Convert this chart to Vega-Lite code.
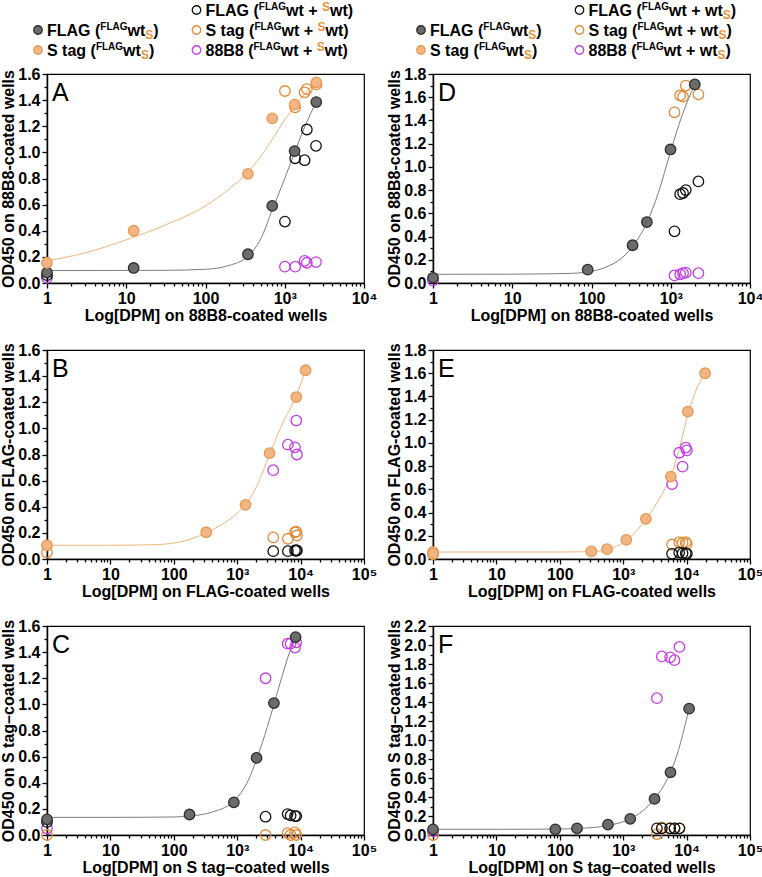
{
"$schema":"https://vega.github.io/schema/vega-lite/v6.json",
"padding":0,
"background":"white",
"config":{
 "font":"Liberation Sans",
 "view":{"stroke":"#000","strokeWidth":1.2},
 "title":{"anchor":"start","frame":"group","orient":"top","offset":-40,"fontSize":25,"fontWeight":"normal","baseline":"alphabetic","dx":5,"color":"#000","font":"Liberation Sans"},
 "axis":{"domainColor":"#000","domainWidth":1.5,"tickColor":"#000","tickWidth":1.3,"labelColor":"#000","labelFontSize":16,"labelFontWeight":"bold","titleFontSize":16,"titleFontWeight":"bold","titleColor":"#000","grid":false,"labelOverlap":false,"labelFont":"Liberation Sans","titleFont":"Liberation Sans","labelFlush":false}
},
"datasets":{
"legend":[
 {"side":"L","col":"a","row":2,"s":"FLAG","prefix":"FLAG (","kind":"a","mid":"wt","close":")"},
 {"side":"L","col":"a","row":3,"s":"S tag","prefix":"S tag (","kind":"a","mid":"wt","close":")"},
 {"side":"L","col":"b","row":1,"s":"FLAG mix","prefix":"FLAG (","kind":"b","mid":"wt + ","close":"wt)"},
 {"side":"L","col":"b","row":2,"s":"S tag mix","prefix":"S tag (","kind":"b","mid":"wt + ","close":"wt)"},
 {"side":"L","col":"b","row":3,"s":"88B8 mix","prefix":"88B8 (","kind":"b","mid":"wt + ","close":"wt)"},
 {"side":"R","col":"a","row":2,"s":"FLAG","prefix":"FLAG (","kind":"a","mid":"wt","close":")"},
 {"side":"R","col":"a","row":3,"s":"S tag","prefix":"S tag (","kind":"a","mid":"wt","close":")"},
 {"side":"R","col":"b","row":1,"s":"FLAG mix","prefix":"FLAG (","kind":"c","mid":"wt + wt","close":")"},
 {"side":"R","col":"b","row":2,"s":"S tag mix","prefix":"S tag (","kind":"c","mid":"wt + wt","close":")"},
 {"side":"R","col":"b","row":3,"s":"88B8 mix","prefix":"88B8 (","kind":"c","mid":"wt + wt","close":")"}
],
"pts":[
 {"p":"A","s":"S tag mix","x":1005,"y":1.47},
 {"p":"A","s":"S tag mix","x":1355,"y":1.345},
 {"p":"A","s":"S tag mix","x":1780,"y":1.46},
 {"p":"A","s":"S tag mix","x":1900,"y":1.485},
 {"p":"A","s":"S tag mix","x":2520,"y":1.52},
 {"p":"A","s":"88B8 mix","x":1,"y":0.04},
 {"p":"A","s":"88B8 mix","x":1005,"y":0.125},
 {"p":"A","s":"88B8 mix","x":1355,"y":0.125},
 {"p":"A","s":"88B8 mix","x":1780,"y":0.17},
 {"p":"A","s":"88B8 mix","x":1900,"y":0.155},
 {"p":"A","s":"88B8 mix","x":2480,"y":0.16},
 {"p":"A","s":"FLAG mix","x":1,"y":0.06},
 {"p":"A","s":"FLAG mix","x":1005,"y":0.47},
 {"p":"A","s":"FLAG mix","x":1355,"y":0.955},
 {"p":"A","s":"FLAG mix","x":1780,"y":0.94},
 {"p":"A","s":"FLAG mix","x":1900,"y":1.175},
 {"p":"A","s":"FLAG mix","x":2480,"y":1.05},
 {"p":"A","s":"FLAG","x":1,"y":0.08},
 {"p":"A","s":"FLAG","x":12.4,"y":0.115},
 {"p":"A","s":"FLAG","x":343,"y":0.22},
 {"p":"A","s":"FLAG","x":695,"y":0.59},
 {"p":"A","s":"FLAG","x":1331,"y":1.01},
 {"p":"A","s":"FLAG","x":2500,"y":1.385},
 {"p":"A","s":"S tag","x":1,"y":0.155},
 {"p":"A","s":"S tag","x":12.4,"y":0.4},
 {"p":"A","s":"S tag","x":343,"y":0.835},
 {"p":"A","s":"S tag","x":695,"y":1.26},
 {"p":"A","s":"S tag","x":1331,"y":1.365},
 {"p":"A","s":"S tag","x":2500,"y":1.535},

 {"p":"D","s":"S tag mix","x":1115,"y":1.47},
 {"p":"D","s":"S tag mix","x":1314,"y":1.615},
 {"p":"D","s":"S tag mix","x":1430,"y":1.605},
 {"p":"D","s":"S tag mix","x":1549,"y":1.7},
 {"p":"D","s":"S tag mix","x":2234,"y":1.625},
 {"p":"D","s":"88B8 mix","x":1,"y":0.02},
 {"p":"D","s":"88B8 mix","x":1115,"y":0.065},
 {"p":"D","s":"88B8 mix","x":1314,"y":0.075},
 {"p":"D","s":"88B8 mix","x":1430,"y":0.085},
 {"p":"D","s":"88B8 mix","x":1549,"y":0.09},
 {"p":"D","s":"88B8 mix","x":2234,"y":0.085},
 {"p":"D","s":"FLAG mix","x":1115,"y":0.445},
 {"p":"D","s":"FLAG mix","x":1314,"y":0.765},
 {"p":"D","s":"FLAG mix","x":1430,"y":0.775},
 {"p":"D","s":"FLAG mix","x":1549,"y":0.8},
 {"p":"D","s":"FLAG mix","x":2234,"y":0.875},
 {"p":"D","s":"FLAG","x":1,"y":0.045},
 {"p":"D","s":"FLAG","x":89.5,"y":0.115},
 {"p":"D","s":"FLAG","x":330,"y":0.325},
 {"p":"D","s":"FLAG","x":500,"y":0.525},
 {"p":"D","s":"FLAG","x":993,"y":1.15},
 {"p":"D","s":"FLAG","x":2010,"y":1.71},

 {"p":"B","s":"88B8 mix","x":3700,"y":0.68},
 {"p":"B","s":"88B8 mix","x":6300,"y":0.875},
 {"p":"B","s":"88B8 mix","x":8150,"y":0.855},
 {"p":"B","s":"88B8 mix","x":8550,"y":1.06},
 {"p":"B","s":"88B8 mix","x":8750,"y":0.8},
 {"p":"B","s":"S tag mix","x":1,"y":0.05},
 {"p":"B","s":"S tag mix","x":3700,"y":0.165},
 {"p":"B","s":"S tag mix","x":6300,"y":0.155},
 {"p":"B","s":"S tag mix","x":8150,"y":0.205},
 {"p":"B","s":"S tag mix","x":8550,"y":0.21},
 {"p":"B","s":"S tag mix","x":8750,"y":0.18},
 {"p":"B","s":"FLAG mix","x":3700,"y":0.06},
 {"p":"B","s":"FLAG mix","x":6300,"y":0.06},
 {"p":"B","s":"FLAG mix","x":8150,"y":0.065},
 {"p":"B","s":"FLAG mix","x":8550,"y":0.065},
 {"p":"B","s":"FLAG mix","x":8750,"y":0.065},
 {"p":"B","s":"S tag","x":1,"y":0.105},
 {"p":"B","s":"S tag","x":324,"y":0.205},
 {"p":"B","s":"S tag","x":1353,"y":0.415},
 {"p":"B","s":"S tag","x":3241,"y":0.81},
 {"p":"B","s":"S tag","x":8560,"y":1.24},
 {"p":"B","s":"S tag","x":11990,"y":1.445},

 {"p":"E","s":"88B8 mix","x":5900,"y":0.645},
 {"p":"E","s":"88B8 mix","x":7650,"y":0.915},
 {"p":"E","s":"88B8 mix","x":8650,"y":0.795},
 {"p":"E","s":"88B8 mix","x":9700,"y":0.96},
 {"p":"E","s":"88B8 mix","x":10100,"y":0.935},
 {"p":"E","s":"S tag mix","x":1,"y":0.04},
 {"p":"E","s":"S tag mix","x":5900,"y":0.125},
 {"p":"E","s":"S tag mix","x":7650,"y":0.145},
 {"p":"E","s":"S tag mix","x":8650,"y":0.14},
 {"p":"E","s":"S tag mix","x":9700,"y":0.145},
 {"p":"E","s":"S tag mix","x":10100,"y":0.13},
 {"p":"E","s":"FLAG mix","x":5900,"y":0.045},
 {"p":"E","s":"FLAG mix","x":7650,"y":0.055},
 {"p":"E","s":"FLAG mix","x":8650,"y":0.05},
 {"p":"E","s":"FLAG mix","x":9700,"y":0.05},
 {"p":"E","s":"FLAG mix","x":10100,"y":0.045},
 {"p":"E","s":"S tag","x":1,"y":0.06},
 {"p":"E","s":"S tag","x":1,"y":0.045},
 {"p":"E","s":"S tag","x":314,"y":0.065},
 {"p":"E","s":"S tag","x":555,"y":0.085},
 {"p":"E","s":"S tag","x":1117,"y":0.165},
 {"p":"E","s":"S tag","x":2280,"y":0.345},
 {"p":"E","s":"S tag","x":5640,"y":0.71},
 {"p":"E","s":"S tag","x":10440,"y":1.27},
 {"p":"E","s":"S tag","x":19580,"y":1.6},

 {"p":"C","s":"88B8 mix","x":1,"y":0.05},
 {"p":"C","s":"88B8 mix","x":2800,"y":1.2},
 {"p":"C","s":"88B8 mix","x":6250,"y":1.465},
 {"p":"C","s":"88B8 mix","x":6950,"y":1.465},
 {"p":"C","s":"88B8 mix","x":8150,"y":1.435},
 {"p":"C","s":"88B8 mix","x":8550,"y":1.475},
 {"p":"C","s":"S tag mix","x":1,"y":0.0},
 {"p":"C","s":"S tag mix","x":2800,"y":0.0},
 {"p":"C","s":"S tag mix","x":6250,"y":0.015},
 {"p":"C","s":"S tag mix","x":6950,"y":0.0},
 {"p":"C","s":"S tag mix","x":8150,"y":0.02},
 {"p":"C","s":"S tag mix","x":8550,"y":0.0},
 {"p":"C","s":"FLAG mix","x":1,"y":0.1},
 {"p":"C","s":"FLAG mix","x":2800,"y":0.14},
 {"p":"C","s":"FLAG mix","x":6250,"y":0.16},
 {"p":"C","s":"FLAG mix","x":6950,"y":0.15},
 {"p":"C","s":"FLAG mix","x":8150,"y":0.145},
 {"p":"C","s":"FLAG mix","x":8550,"y":0.145},
 {"p":"C","s":"FLAG","x":1,"y":0.12},
 {"p":"C","s":"FLAG","x":177,"y":0.157},
 {"p":"C","s":"FLAG","x":885,"y":0.25},
 {"p":"C","s":"FLAG","x":2020,"y":0.59},
 {"p":"C","s":"FLAG","x":3795,"y":1.01},
 {"p":"C","s":"FLAG","x":8340,"y":1.515},

 {"p":"F","s":"88B8 mix","x":1,"y":0.04},
 {"p":"F","s":"88B8 mix","x":3400,"y":1.44},
 {"p":"F","s":"88B8 mix","x":4070,"y":1.88},
 {"p":"F","s":"88B8 mix","x":5500,"y":1.87},
 {"p":"F","s":"88B8 mix","x":6450,"y":1.84},
 {"p":"F","s":"88B8 mix","x":7700,"y":1.98},
 {"p":"F","s":"S tag mix","x":1,"y":0.0},
 {"p":"F","s":"S tag mix","x":3400,"y":0.01},
 {"p":"F","s":"S tag mix","x":4070,"y":0.08},
 {"p":"F","s":"S tag mix","x":5500,"y":0.07},
 {"p":"F","s":"S tag mix","x":6450,"y":0.07},
 {"p":"F","s":"S tag mix","x":7700,"y":0.07},
 {"p":"F","s":"FLAG mix","x":3400,"y":0.07},
 {"p":"F","s":"FLAG mix","x":4070,"y":0.07},
 {"p":"F","s":"FLAG mix","x":5500,"y":0.07},
 {"p":"F","s":"FLAG mix","x":6450,"y":0.07},
 {"p":"F","s":"FLAG mix","x":7700,"y":0.07},
 {"p":"F","s":"FLAG","x":1,"y":0.06},
 {"p":"F","s":"FLAG","x":85,"y":0.06},
 {"p":"F","s":"FLAG","x":187,"y":0.07},
 {"p":"F","s":"FLAG","x":575,"y":0.11},
 {"p":"F","s":"FLAG","x":1291,"y":0.17},
 {"p":"F","s":"FLAG","x":3120,"y":0.38},
 {"p":"F","s":"FLAG","x":5570,"y":0.66},
 {"p":"F","s":"FLAG","x":10960,"y":1.33}
],
"curves":[
 {"p":"A","c":"FLAG","x":1,"y":0.095},{"p":"A","c":"FLAG","x":30,"y":0.097},{"p":"A","c":"FLAG","x":100,"y":0.105},{"p":"A","c":"FLAG","x":200,"y":0.135},{"p":"A","c":"FLAG","x":343,"y":0.205},{"p":"A","c":"FLAG","x":500,"y":0.34},{"p":"A","c":"FLAG","x":695,"y":0.56},{"p":"A","c":"FLAG","x":1000,"y":0.8},{"p":"A","c":"FLAG","x":1331,"y":1.0},{"p":"A","c":"FLAG","x":1800,"y":1.2},{"p":"A","c":"FLAG","x":2500,"y":1.39},
 {"p":"A","c":"S tag","x":1,"y":0.17},{"p":"A","c":"S tag","x":3,"y":0.23},{"p":"A","c":"S tag","x":10,"y":0.33},{"p":"A","c":"S tag","x":30,"y":0.44},{"p":"A","c":"S tag","x":100,"y":0.59},{"p":"A","c":"S tag","x":200,"y":0.72},{"p":"A","c":"S tag","x":343,"y":0.85},{"p":"A","c":"S tag","x":500,"y":0.97},{"p":"A","c":"S tag","x":695,"y":1.1},{"p":"A","c":"S tag","x":1000,"y":1.25},{"p":"A","c":"S tag","x":1331,"y":1.35},{"p":"A","c":"S tag","x":1800,"y":1.45},{"p":"A","c":"S tag","x":2500,"y":1.54},
 {"p":"D","c":"FLAG","x":1,"y":0.075},{"p":"D","c":"FLAG","x":10,"y":0.076},{"p":"D","c":"FLAG","x":50,"y":0.082},{"p":"D","c":"FLAG","x":89.5,"y":0.095},{"p":"D","c":"FLAG","x":150,"y":0.135},{"p":"D","c":"FLAG","x":250,"y":0.225},{"p":"D","c":"FLAG","x":330,"y":0.315},{"p":"D","c":"FLAG","x":500,"y":0.52},{"p":"D","c":"FLAG","x":700,"y":0.78},{"p":"D","c":"FLAG","x":993,"y":1.13},{"p":"D","c":"FLAG","x":1400,"y":1.45},{"p":"D","c":"FLAG","x":2010,"y":1.71},
 {"p":"B","c":"S tag","x":1,"y":0.105},{"p":"B","c":"S tag","x":10,"y":0.105},{"p":"B","c":"S tag","x":50,"y":0.11},{"p":"B","c":"S tag","x":100,"y":0.122},{"p":"B","c":"S tag","x":200,"y":0.158},{"p":"B","c":"S tag","x":324,"y":0.2},{"p":"B","c":"S tag","x":600,"y":0.27},{"p":"B","c":"S tag","x":1000,"y":0.35},{"p":"B","c":"S tag","x":1353,"y":0.415},{"p":"B","c":"S tag","x":2000,"y":0.55},{"p":"B","c":"S tag","x":3241,"y":0.8},{"p":"B","c":"S tag","x":5000,"y":1.02},{"p":"B","c":"S tag","x":8560,"y":1.25},{"p":"B","c":"S tag","x":12000,"y":1.445},
 {"p":"E","c":"S tag","x":1,"y":0.06},{"p":"E","c":"S tag","x":10,"y":0.06},{"p":"E","c":"S tag","x":100,"y":0.06},{"p":"E","c":"S tag","x":314,"y":0.063},{"p":"E","c":"S tag","x":555,"y":0.08},{"p":"E","c":"S tag","x":1117,"y":0.16},{"p":"E","c":"S tag","x":2280,"y":0.34},{"p":"E","c":"S tag","x":4000,"y":0.55},{"p":"E","c":"S tag","x":5640,"y":0.71},{"p":"E","c":"S tag","x":8000,"y":0.99},{"p":"E","c":"S tag","x":10440,"y":1.24},{"p":"E","c":"S tag","x":14000,"y":1.45},{"p":"E","c":"S tag","x":19580,"y":1.6},
 {"p":"C","c":"FLAG","x":1,"y":0.135},{"p":"C","c":"FLAG","x":10,"y":0.135},{"p":"C","c":"FLAG","x":100,"y":0.138},{"p":"C","c":"FLAG","x":177,"y":0.145},{"p":"C","c":"FLAG","x":400,"y":0.175},{"p":"C","c":"FLAG","x":885,"y":0.26},{"p":"C","c":"FLAG","x":1500,"y":0.42},{"p":"C","c":"FLAG","x":2020,"y":0.58},{"p":"C","c":"FLAG","x":3000,"y":0.83},{"p":"C","c":"FLAG","x":3795,"y":1.0},{"p":"C","c":"FLAG","x":5000,"y":1.2},{"p":"C","c":"FLAG","x":6500,"y":1.38},{"p":"C","c":"FLAG","x":8340,"y":1.51},
 {"p":"F","c":"FLAG","x":1,"y":0.06},{"p":"F","c":"FLAG","x":10,"y":0.06},{"p":"F","c":"FLAG","x":85,"y":0.062},{"p":"F","c":"FLAG","x":187,"y":0.068},{"p":"F","c":"FLAG","x":575,"y":0.1},{"p":"F","c":"FLAG","x":1291,"y":0.17},{"p":"F","c":"FLAG","x":2000,"y":0.25},{"p":"F","c":"FLAG","x":3120,"y":0.38},{"p":"F","c":"FLAG","x":4000,"y":0.48},{"p":"F","c":"FLAG","x":5570,"y":0.66},{"p":"F","c":"FLAG","x":7500,"y":0.9},{"p":"F","c":"FLAG","x":9000,"y":1.1},{"p":"F","c":"FLAG","x":10960,"y":1.33}
]
},
"columns":2,
"spacing":{"row":67,"column":69},
"align":"each",
"bounds":"flush",
"concat":[
 {"width":317,"height":7,"view":{"stroke":null},"data":{"name":"legend"},"transform":[{"filter":"datum.side=='L'"}],
  "encoding":{"x":{"field":"col","type":"nominal","scale":{"type":"point","domain":["a","b"],"range":[0,158.5],"padding":0},"axis":null},
   "y":{"field":"row","type":"ordinal","scale":{"domain":[1,2,3],"range":[0,60],"paddingInner":0,"paddingOuter":0},"axis":null}},
  "layer":[
   {"mark":{"type":"point","shape":"circle","size":72,"opacity":1,"filled":true,"strokeWidth":1.3,"xOffset":-9},
    "encoding":{"fill":{"field":"s","type":"nominal","scale":{"domain":["FLAG","S tag","FLAG mix","S tag mix","88B8 mix"],"range":["#6b6b6b","#f3b581","transparent","transparent","transparent"]},"legend":null},
     "stroke":{"field":"s","type":"nominal","scale":{"domain":["FLAG","S tag","FLAG mix","S tag mix","88B8 mix"],"range":["#2e2e2e","#e39b58","#111111","#e38a37","#c43ce8"]},"legend":null}}},
   {"mark":{"type":"text","align":"left","baseline":"alphabetic","dy":5.5,"fontSize":16,"fontWeight":"bold","color":"#000"},"encoding":{"text":{"field":"prefix"}}},
   {"mark":{"type":"text","align":"left","baseline":"alphabetic","dy":0,"fontSize":10,"fontWeight":"bold","color":"#000","text":"FLAG","dx":{"expr":"(datum.prefix=='FLAG (' ? 53.3 : datum.prefix=='S tag (' ? 48.9 : 48.0)"}}},
   {"mark":{"type":"text","align":"left","baseline":"alphabetic","dy":5.5,"fontSize":16,"fontWeight":"bold","color":"#000","dx":{"expr":"(datum.prefix=='FLAG (' ? 53.3 : datum.prefix=='S tag (' ? 48.9 : 48.0) + 27.2"}},"encoding":{"text":{"field":"mid"}}},
   {"mark":{"type":"text","align":"left","baseline":"alphabetic","fontSize":12,"fontWeight":"bold","color":"#e8923a","text":"S","dx":{"expr":"(datum.prefix=='FLAG (' ? 53.3 : datum.prefix=='S tag (' ? 48.9 : 48.0) + 27.2 + (datum.kind=='a' ? 17.8 : datum.kind=='b' ? 36.0 : 53.8)"},"dy":{"expr":"datum.kind=='b' ? 0.5 : 9"}}},
   {"mark":{"type":"text","align":"left","baseline":"alphabetic","dy":5.5,"fontSize":16,"fontWeight":"bold","color":"#000","dx":{"expr":"(datum.prefix=='FLAG (' ? 53.3 : datum.prefix=='S tag (' ? 48.9 : 48.0) + 27.2 + (datum.kind=='a' ? 17.8 : datum.kind=='b' ? 36.0 : 53.8) + 8.0"}},"encoding":{"text":{"field":"close"}}}
  ]},
 {"width":317,"height":7,"view":{"stroke":null},"data":{"name":"legend"},"transform":[{"filter":"datum.side=='R'"}],
  "encoding":{"x":{"field":"col","type":"nominal","scale":{"type":"point","domain":["a","b"],"range":[-3,155.5],"padding":0},"axis":null},
   "y":{"field":"row","type":"ordinal","scale":{"domain":[1,2,3],"range":[0,60],"paddingInner":0,"paddingOuter":0},"axis":null}},
  "layer":[
   {"mark":{"type":"point","shape":"circle","size":72,"opacity":1,"filled":true,"strokeWidth":1.3,"xOffset":-9},
    "encoding":{"fill":{"field":"s","type":"nominal","scale":{"domain":["FLAG","S tag","FLAG mix","S tag mix","88B8 mix"],"range":["#6b6b6b","#f3b581","transparent","transparent","transparent"]},"legend":null},
     "stroke":{"field":"s","type":"nominal","scale":{"domain":["FLAG","S tag","FLAG mix","S tag mix","88B8 mix"],"range":["#2e2e2e","#e39b58","#111111","#e38a37","#c43ce8"]},"legend":null}}},
   {"mark":{"type":"text","align":"left","baseline":"alphabetic","dy":5.5,"fontSize":16,"fontWeight":"bold","color":"#000"},"encoding":{"text":{"field":"prefix"}}},
   {"mark":{"type":"text","align":"left","baseline":"alphabetic","dy":0,"fontSize":10,"fontWeight":"bold","color":"#000","text":"FLAG","dx":{"expr":"(datum.prefix=='FLAG (' ? 53.3 : datum.prefix=='S tag (' ? 48.9 : 48.0)"}}},
   {"mark":{"type":"text","align":"left","baseline":"alphabetic","dy":5.5,"fontSize":16,"fontWeight":"bold","color":"#000","dx":{"expr":"(datum.prefix=='FLAG (' ? 53.3 : datum.prefix=='S tag (' ? 48.9 : 48.0) + 27.2"}},"encoding":{"text":{"field":"mid"}}},
   {"mark":{"type":"text","align":"left","baseline":"alphabetic","fontSize":12,"fontWeight":"bold","color":"#e8923a","text":"S","dx":{"expr":"(datum.prefix=='FLAG (' ? 53.3 : datum.prefix=='S tag (' ? 48.9 : 48.0) + 27.2 + (datum.kind=='a' ? 17.8 : datum.kind=='b' ? 36.0 : 53.8)"},"dy":{"expr":"datum.kind=='b' ? 0.5 : 9"}}},
   {"mark":{"type":"text","align":"left","baseline":"alphabetic","dy":5.5,"fontSize":16,"fontWeight":"bold","color":"#000","dx":{"expr":"(datum.prefix=='FLAG (' ? 53.3 : datum.prefix=='S tag (' ? 48.9 : 48.0) + 27.2 + (datum.kind=='a' ? 17.8 : datum.kind=='b' ? 36.0 : 53.8) + 8.0"}},"encoding":{"text":{"field":"close"}}}
  ]},

 {"width":317,"height":209,"title":"A",
  "encoding":{
   "x":{"field":"x","type":"quantitative","scale":{"type":"log","domain":[1,10000],"nice":false},
    "axis":{"values":[1,2,3,4,5,6,7,8,9,10,20,30,40,50,60,70,80,90,100,200,300,400,500,600,700,800,900,1000,2000,3000,4000,5000,6000,7000,8000,9000,10000],
     "labelExpr":"datum.value==1?'1':datum.value==10?'10':datum.value==100?'100':datum.value==1000?'10³':datum.value==10000?'10⁴':datum.value==100000?'10⁵':''",
     "tickSize":{"condition":{"test":"datum.value==1||datum.value==10||datum.value==100||datum.value==1000||datum.value==10000||datum.value==100000","value":5},"value":3},
     "labelPadding":2,"titlePadding":1,"title":"Log[DPM] on 88B8-coated wells"}},
   "y":{"field":"y","type":"quantitative","scale":{"domain":[0,1.6],"nice":false},
    "axis":{"values":[0,0.1,0.2,0.3,0.4,0.5,0.6,0.7,0.8,0.9,1.0,1.1,1.2,1.3,1.4,1.5,1.6],
     "labelExpr":"round(datum.value*10)%2==0 ? format(datum.value,'.1f') : ''",
     "tickSize":{"condition":{"test":"round(datum.value*10)%2==0","value":5},"value":3},
     "labelPadding":2,"titlePadding":1,"title":"OD450 on 88B8-coated wells"}}
  },
  "layer":[
   {"data":{"name":"curves"},"transform":[{"filter":"datum.p=='A'"}],"mark":{"type":"line","interpolate":"monotone","strokeWidth":1},
    "encoding":{"color":{"field":"c","type":"nominal","scale":{"domain":["FLAG","S tag"],"range":["#7d7d7d","#f2b47c"]},"legend":null}}},
   {"data":{"name":"pts"},"transform":[{"filter":"datum.p=='A'"}],"mark":{"type":"point","shape":"circle","size":110,"opacity":1,"filled":true,"strokeWidth":1.3},
    "encoding":{"fill":{"field":"s","type":"nominal","scale":{"domain":["FLAG","S tag","FLAG mix","S tag mix","88B8 mix"],"range":["#6b6b6b","#f3b581","transparent","transparent","transparent"]},"legend":null},
     "stroke":{"field":"s","type":"nominal","scale":{"domain":["FLAG","S tag","FLAG mix","S tag mix","88B8 mix"],"range":["#2e2e2e","#e39b58","#111111","#e38a37","#c43ce8"]},"legend":null}}}
  ]},

 {"width":317,"height":209,"title":"D",
  "encoding":{
   "x":{"field":"x","type":"quantitative","scale":{"type":"log","domain":[1,10000],"nice":false},
    "axis":{"values":[1,2,3,4,5,6,7,8,9,10,20,30,40,50,60,70,80,90,100,200,300,400,500,600,700,800,900,1000,2000,3000,4000,5000,6000,7000,8000,9000,10000],
     "labelExpr":"datum.value==1?'1':datum.value==10?'10':datum.value==100?'100':datum.value==1000?'10³':datum.value==10000?'10⁴':datum.value==100000?'10⁵':''",
     "tickSize":{"condition":{"test":"datum.value==1||datum.value==10||datum.value==100||datum.value==1000||datum.value==10000||datum.value==100000","value":5},"value":3},
     "labelPadding":2,"titlePadding":1,"title":"Log[DPM] on 88B8-coated wells"}},
   "y":{"field":"y","type":"quantitative","scale":{"domain":[0,1.8],"nice":false},
    "axis":{"values":[0,0.1,0.2,0.3,0.4,0.5,0.6,0.7,0.8,0.9,1.0,1.1,1.2,1.3,1.4,1.5,1.6,1.7,1.8],
     "labelExpr":"round(datum.value*10)%2==0 ? format(datum.value,'.1f') : ''",
     "tickSize":{"condition":{"test":"round(datum.value*10)%2==0","value":5},"value":3},
     "labelPadding":2,"titlePadding":1,"title":"OD450 on 88B8-coated wells"}}
  },
  "layer":[
   {"data":{"name":"curves"},"transform":[{"filter":"datum.p=='D'"}],"mark":{"type":"line","interpolate":"monotone","strokeWidth":1},
    "encoding":{"color":{"field":"c","type":"nominal","scale":{"domain":["FLAG","S tag"],"range":["#7d7d7d","#f2b47c"]},"legend":null}}},
   {"data":{"name":"pts"},"transform":[{"filter":"datum.p=='D'"}],"mark":{"type":"point","shape":"circle","size":110,"opacity":1,"filled":true,"strokeWidth":1.3},
    "encoding":{"fill":{"field":"s","type":"nominal","scale":{"domain":["FLAG","S tag","FLAG mix","S tag mix","88B8 mix"],"range":["#6b6b6b","#f3b581","transparent","transparent","transparent"]},"legend":null},
     "stroke":{"field":"s","type":"nominal","scale":{"domain":["FLAG","S tag","FLAG mix","S tag mix","88B8 mix"],"range":["#2e2e2e","#e39b58","#111111","#e38a37","#c43ce8"]},"legend":null}}}
  ]},

 {"width":317,"height":209,"title":"B",
  "encoding":{
   "x":{"field":"x","type":"quantitative","scale":{"type":"log","domain":[1,100000],"nice":false},
    "axis":{"values":[1,2,3,4,5,6,7,8,9,10,20,30,40,50,60,70,80,90,100,200,300,400,500,600,700,800,900,1000,2000,3000,4000,5000,6000,7000,8000,9000,10000,20000,30000,40000,50000,60000,70000,80000,90000,100000],
     "labelExpr":"datum.value==1?'1':datum.value==10?'10':datum.value==100?'100':datum.value==1000?'10³':datum.value==10000?'10⁴':datum.value==100000?'10⁵':''",
     "tickSize":{"condition":{"test":"datum.value==1||datum.value==10||datum.value==100||datum.value==1000||datum.value==10000||datum.value==100000","value":5},"value":3},
     "labelPadding":2,"titlePadding":1,"title":"Log[DPM] on FLAG-coated wells"}},
   "y":{"field":"y","type":"quantitative","scale":{"domain":[0,1.6],"nice":false},
    "axis":{"values":[0,0.1,0.2,0.3,0.4,0.5,0.6,0.7,0.8,0.9,1.0,1.1,1.2,1.3,1.4,1.5,1.6],
     "labelExpr":"round(datum.value*10)%2==0 ? format(datum.value,'.1f') : ''",
     "tickSize":{"condition":{"test":"round(datum.value*10)%2==0","value":5},"value":3},
     "labelPadding":2,"titlePadding":1,"title":"OD450 on FLAG-coated wells"}}
  },
  "layer":[
   {"data":{"name":"curves"},"transform":[{"filter":"datum.p=='B'"}],"mark":{"type":"line","interpolate":"monotone","strokeWidth":1},
    "encoding":{"color":{"field":"c","type":"nominal","scale":{"domain":["FLAG","S tag"],"range":["#7d7d7d","#f2b47c"]},"legend":null}}},
   {"data":{"name":"pts"},"transform":[{"filter":"datum.p=='B'"}],"mark":{"type":"point","shape":"circle","size":110,"opacity":1,"filled":true,"strokeWidth":1.3},
    "encoding":{"fill":{"field":"s","type":"nominal","scale":{"domain":["FLAG","S tag","FLAG mix","S tag mix","88B8 mix"],"range":["#6b6b6b","#f3b581","transparent","transparent","transparent"]},"legend":null},
     "stroke":{"field":"s","type":"nominal","scale":{"domain":["FLAG","S tag","FLAG mix","S tag mix","88B8 mix"],"range":["#2e2e2e","#e39b58","#111111","#e38a37","#c43ce8"]},"legend":null}}}
  ]},

 {"width":317,"height":209,"title":"E",
  "encoding":{
   "x":{"field":"x","type":"quantitative","scale":{"type":"log","domain":[1,100000],"nice":false},
    "axis":{"values":[1,2,3,4,5,6,7,8,9,10,20,30,40,50,60,70,80,90,100,200,300,400,500,600,700,800,900,1000,2000,3000,4000,5000,6000,7000,8000,9000,10000,20000,30000,40000,50000,60000,70000,80000,90000,100000],
     "labelExpr":"datum.value==1?'1':datum.value==10?'10':datum.value==100?'100':datum.value==1000?'10³':datum.value==10000?'10⁴':datum.value==100000?'10⁵':''",
     "tickSize":{"condition":{"test":"datum.value==1||datum.value==10||datum.value==100||datum.value==1000||datum.value==10000||datum.value==100000","value":5},"value":3},
     "labelPadding":2,"titlePadding":1,"title":"Log[DPM] on FLAG-coated wells"}},
   "y":{"field":"y","type":"quantitative","scale":{"domain":[0,1.8],"nice":false},
    "axis":{"values":[0,0.1,0.2,0.3,0.4,0.5,0.6,0.7,0.8,0.9,1.0,1.1,1.2,1.3,1.4,1.5,1.6,1.7,1.8],
     "labelExpr":"round(datum.value*10)%2==0 ? format(datum.value,'.1f') : ''",
     "tickSize":{"condition":{"test":"round(datum.value*10)%2==0","value":5},"value":3},
     "labelPadding":2,"titlePadding":1,"title":"OD450 on FLAG-coated wells"}}
  },
  "layer":[
   {"data":{"name":"curves"},"transform":[{"filter":"datum.p=='E'"}],"mark":{"type":"line","interpolate":"monotone","strokeWidth":1},
    "encoding":{"color":{"field":"c","type":"nominal","scale":{"domain":["FLAG","S tag"],"range":["#7d7d7d","#f2b47c"]},"legend":null}}},
   {"data":{"name":"pts"},"transform":[{"filter":"datum.p=='E'"}],"mark":{"type":"point","shape":"circle","size":110,"opacity":1,"filled":true,"strokeWidth":1.3},
    "encoding":{"fill":{"field":"s","type":"nominal","scale":{"domain":["FLAG","S tag","FLAG mix","S tag mix","88B8 mix"],"range":["#6b6b6b","#f3b581","transparent","transparent","transparent"]},"legend":null},
     "stroke":{"field":"s","type":"nominal","scale":{"domain":["FLAG","S tag","FLAG mix","S tag mix","88B8 mix"],"range":["#2e2e2e","#e39b58","#111111","#e38a37","#c43ce8"]},"legend":null}}}
  ]},

 {"width":317,"height":209,"title":"C",
  "encoding":{
   "x":{"field":"x","type":"quantitative","scale":{"type":"log","domain":[1,100000],"nice":false},
    "axis":{"values":[1,2,3,4,5,6,7,8,9,10,20,30,40,50,60,70,80,90,100,200,300,400,500,600,700,800,900,1000,2000,3000,4000,5000,6000,7000,8000,9000,10000,20000,30000,40000,50000,60000,70000,80000,90000,100000],
     "labelExpr":"datum.value==1?'1':datum.value==10?'10':datum.value==100?'100':datum.value==1000?'10³':datum.value==10000?'10⁴':datum.value==100000?'10⁵':''",
     "tickSize":{"condition":{"test":"datum.value==1||datum.value==10||datum.value==100||datum.value==1000||datum.value==10000||datum.value==100000","value":5},"value":3},
     "labelPadding":2,"titlePadding":1,"title":"Log[DPM] on S tag–coated wells"}},
   "y":{"field":"y","type":"quantitative","scale":{"domain":[0,1.6],"nice":false},
    "axis":{"values":[0,0.1,0.2,0.3,0.4,0.5,0.6,0.7,0.8,0.9,1.0,1.1,1.2,1.3,1.4,1.5,1.6],
     "labelExpr":"round(datum.value*10)%2==0 ? format(datum.value,'.1f') : ''",
     "tickSize":{"condition":{"test":"round(datum.value*10)%2==0","value":5},"value":3},
     "labelPadding":2,"titlePadding":1,"title":"OD450 on S tag–coated wells"}}
  },
  "layer":[
   {"data":{"name":"curves"},"transform":[{"filter":"datum.p=='C'"}],"mark":{"type":"line","interpolate":"monotone","strokeWidth":1},
    "encoding":{"color":{"field":"c","type":"nominal","scale":{"domain":["FLAG","S tag"],"range":["#7d7d7d","#f2b47c"]},"legend":null}}},
   {"data":{"name":"pts"},"transform":[{"filter":"datum.p=='C'"}],"mark":{"type":"point","shape":"circle","size":110,"opacity":1,"filled":true,"strokeWidth":1.3},
    "encoding":{"fill":{"field":"s","type":"nominal","scale":{"domain":["FLAG","S tag","FLAG mix","S tag mix","88B8 mix"],"range":["#6b6b6b","#f3b581","transparent","transparent","transparent"]},"legend":null},
     "stroke":{"field":"s","type":"nominal","scale":{"domain":["FLAG","S tag","FLAG mix","S tag mix","88B8 mix"],"range":["#2e2e2e","#e39b58","#111111","#e38a37","#c43ce8"]},"legend":null}}}
  ]},

 {"width":317,"height":209,"title":"F",
  "encoding":{
   "x":{"field":"x","type":"quantitative","scale":{"type":"log","domain":[1,100000],"nice":false},
    "axis":{"values":[1,2,3,4,5,6,7,8,9,10,20,30,40,50,60,70,80,90,100,200,300,400,500,600,700,800,900,1000,2000,3000,4000,5000,6000,7000,8000,9000,10000,20000,30000,40000,50000,60000,70000,80000,90000,100000],
     "labelExpr":"datum.value==1?'1':datum.value==10?'10':datum.value==100?'100':datum.value==1000?'10³':datum.value==10000?'10⁴':datum.value==100000?'10⁵':''",
     "tickSize":{"condition":{"test":"datum.value==1||datum.value==10||datum.value==100||datum.value==1000||datum.value==10000||datum.value==100000","value":5},"value":3},
     "labelPadding":2,"titlePadding":1,"title":"Log[DPM] on S tag–coated wells"}},
   "y":{"field":"y","type":"quantitative","scale":{"domain":[0,2.2],"nice":false},
    "axis":{"values":[0,0.1,0.2,0.3,0.4,0.5,0.6,0.7,0.8,0.9,1.0,1.1,1.2,1.3,1.4,1.5,1.6,1.7,1.8,1.9,2.0,2.1,2.2],
     "labelExpr":"round(datum.value*10)%2==0 ? format(datum.value,'.1f') : ''",
     "tickSize":{"condition":{"test":"round(datum.value*10)%2==0","value":5},"value":3},
     "labelPadding":2,"titlePadding":1,"title":"OD450 on S tag–coated wells"}}
  },
  "layer":[
   {"data":{"name":"curves"},"transform":[{"filter":"datum.p=='F'"}],"mark":{"type":"line","interpolate":"monotone","strokeWidth":1},
    "encoding":{"color":{"field":"c","type":"nominal","scale":{"domain":["FLAG","S tag"],"range":["#7d7d7d","#f2b47c"]},"legend":null}}},
   {"data":{"name":"pts"},"transform":[{"filter":"datum.p=='F'"}],"mark":{"type":"point","shape":"circle","size":110,"opacity":1,"filled":true,"strokeWidth":1.3},
    "encoding":{"fill":{"field":"s","type":"nominal","scale":{"domain":["FLAG","S tag","FLAG mix","S tag mix","88B8 mix"],"range":["#6b6b6b","#f3b581","transparent","transparent","transparent"]},"legend":null},
     "stroke":{"field":"s","type":"nominal","scale":{"domain":["FLAG","S tag","FLAG mix","S tag mix","88B8 mix"],"range":["#2e2e2e","#e39b58","#111111","#e38a37","#c43ce8"]},"legend":null}}}
  ]}
]
}
